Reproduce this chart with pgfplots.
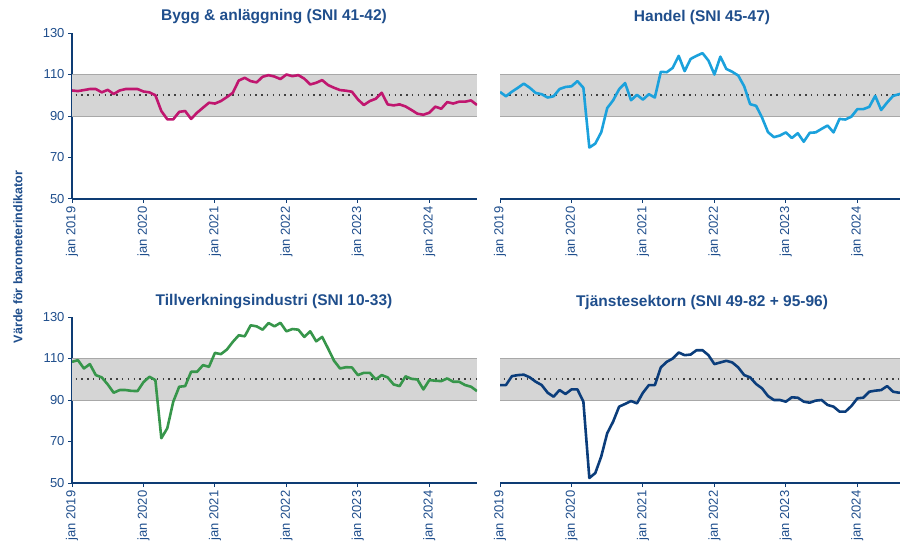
\documentclass[border=0pt]{standalone}
\usepackage{pgfplots}
\usepackage{pgfplotstable}
\pgfplotsset{compat=1.18}
\usepackage{fontspec}
\setmainfont{Liberation Sans}
\definecolor{navy}{HTML}{0E3C74}
\definecolor{txtblue}{HTML}{1F4E8C}
\definecolor{bygg}{HTML}{C0166F}
\definecolor{handel}{HTML}{1BA1DC}
\definecolor{tillv}{HTML}{37964B}
\definecolor{tjanst}{HTML}{0B3D7B}
\definecolor{bandfill}{HTML}{D5D5D5}
\definecolor{bandline}{HTML}{A8A8A8}

\pgfplotstableread{
m bygg handel tillv tjanst
0 102.3 101.6 108.4 97.2
1 102.0 99.5 109.2 97.2
2 102.5 101.7 105.2 101.5
3 103.0 103.6 107.3 102.0
4 103.0 105.6 102.0 102.2
5 101.4 103.6 100.9 100.9
6 102.6 101.1 97.5 98.8
7 100.6 100.5 93.5 97.2
8 102.3 98.9 94.8 93.5
9 103.0 99.5 94.8 91.6
10 103.0 103.0 94.4 94.8
11 103.0 104.0 94.3 92.9
12 101.8 104.3 98.6 95.1
13 101.4 106.8 101.2 95.1
14 100.0 103.6 99.6 89.2
15 92.4 74.8 71.6 52.4
16 88.4 76.7 76.4 54.8
17 88.4 82.2 89.2 62.8
18 92.0 93.8 96.4 74.0
19 92.4 97.6 96.7 79.6
20 88.6 102.9 103.6 86.8
21 91.6 105.9 103.6 88.1
22 94.0 97.6 106.8 89.5
23 96.4 100.2 106.0 88.4
24 96.0 97.9 112.7 93.5
25 97.2 100.5 112.1 97.2
26 99.1 98.9 114.3 97.2
27 101.2 111.3 118.0 105.7
28 107.1 111.1 121.2 108.4
29 108.4 113.2 120.7 110.0
30 106.8 119.0 126.0 112.9
31 106.2 111.6 125.5 111.6
32 108.9 117.5 123.9 111.9
33 109.7 119.0 127.1 114.0
34 109.0 120.3 125.5 114.0
35 107.8 116.7 127.2 111.6
36 110.0 110.0 123.1 107.3
37 109.2 118.6 124.2 108.1
38 109.7 112.7 123.9 108.9
39 108.0 111.3 120.4 108.1
40 105.2 109.5 123.1 105.7
41 106.0 104.3 118.3 102.0
42 107.3 95.7 120.4 100.9
43 104.9 94.9 114.8 97.7
44 103.6 89.2 108.9 95.6
45 102.5 82.2 105.2 91.9
46 102.2 79.8 105.8 90.0
47 101.7 80.6 105.7 90.0
48 98.0 82.1 102.0 89.2
49 95.3 79.4 103.1 91.3
50 97.2 81.7 103.1 91.1
51 98.3 77.6 99.9 89.2
52 101.2 81.9 102.0 88.7
53 95.6 82.1 100.9 89.7
54 95.1 83.8 97.5 90.0
55 95.6 85.4 96.7 87.6
56 94.6 82.1 101.4 86.8
57 92.9 88.6 100.2 84.4
58 91.1 88.3 99.9 84.4
59 90.6 89.7 95.1 87.1
60 91.6 93.3 99.6 90.8
61 94.5 93.3 99.3 91.1
62 93.5 94.4 99.1 94.0
63 96.7 99.7 100.4 94.5
64 96.0 92.9 98.8 94.8
65 96.9 96.5 98.8 96.7
66 96.9 99.7 97.2 94.0
67 97.5 100.5 96.4 93.5
68 95.3 101.5 94.3 94.0
}\datatable

\pgfplotsset{
  panel/.style={
    scale only axis, width=405pt, height=166pt,
    anchor=south west,
    xmin=0, xmax=68, ymin=50, ymax=130,
    axis x line*=bottom, axis y line*=left,
    axis line style={navy, line width=2.5pt},
    xtick={0,12,24,36,48,60},
    xticklabels={jan 2019,jan 2020,jan 2021,jan 2022,jan 2023,jan 2024},
    ytick={50,70,90,110,130},
    /pgf/number format/assume math mode=true,
    tick align=outside, major tick length=4pt,
    tick style={navy, line width=1pt},
    x tick label style={rotate=90, anchor=east, font=\fontsize{13}{13}\selectfont, text=txtblue},
    y tick label style={font=\fontsize{13}{13}\selectfont, text=txtblue},
    every axis plot/.append style={line width=2.6pt, line join=round, no marks},
  },
  rightpanel/.style={panel, ytick=\empty, y axis line style={draw=none}},
}
\newcommand{\band}{%
  \fill[bandfill] (axis cs:0,90) rectangle (axis cs:68,110);
  \draw[bandline, line width=1pt] (axis cs:0,90) -- (axis cs:68,90);
  \draw[bandline, line width=1pt] (axis cs:0,110) -- (axis cs:68,110);
  \draw[black!75, line width=1.6pt, dash pattern=on 1.4pt off 4.4pt] (axis cs:0.6,100) -- (axis cs:68,100);
}
\tikzset{ttl/.style={font=\bfseries\fontsize{15.5}{16}\selectfont, text=txtblue}}

\begin{document}
\begin{tikzpicture}
\begin{axis}[panel, at={(72pt,350pt)}]
  \band
  \addplot[bygg] table[x=m, y=bygg] {\datatable};
\end{axis}
\begin{axis}[rightpanel, at={(500pt,350pt)}]
  \band
  \addplot[handel] table[x=m, y=handel] {\datatable};
\end{axis}
\begin{axis}[panel, at={(72pt,66pt)}]
  \band
  \addplot[tillv] table[x=m, y=tillv] {\datatable};
\end{axis}
\begin{axis}[rightpanel, at={(500pt,66pt)}]
  \band
  \addplot[tjanst] table[x=m, y=tjanst] {\datatable};
\end{axis}
\node[ttl] at (274pt,532pt) {Bygg \& anläggning (SNI 41-42)};
\node[ttl] at (702pt,532pt) {Handel (SNI 45-47)};
\node[ttl] at (274pt,247pt) {Tillverkningsindustri (SNI 10-33)};
\node[ttl] at (702pt,247pt) {Tjänstesektorn (SNI 49-82 + 95-96)};
\node[rotate=90, font=\bfseries\fontsize{12.5}{12.5}\selectfont, text=txtblue] at (18pt,292pt) {Värde för barometerindikator};
\pgfresetboundingbox
\path[use as bounding box] (0,0) rectangle (900pt,549pt);
\end{tikzpicture}
\end{document}
